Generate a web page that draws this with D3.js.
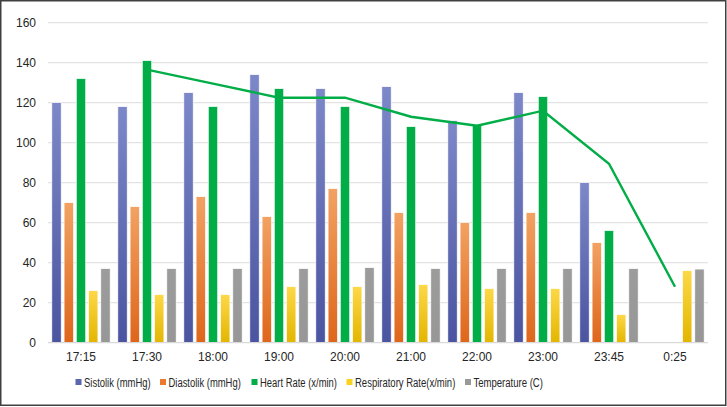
<!DOCTYPE html>
<html><head><meta charset="utf-8">
<script src="https://cdn.jsdelivr.net/npm/d3@7/dist/d3.min.js"></script>
<style>body{margin:0;background:#fff}svg{display:block}text{font-family:"Liberation Sans",Arial,sans-serif;}</style>
</head><body><svg id="c" width="727" height="407"></svg>
<script>
const categories = ["17:15","17:30","18:00","19:00","20:00","21:00","22:00","23:00","23:45","0:25"];
const sistolik = [120,118,125,134,127,128,111,125,80,null];
const diastolik = [70,68,73,63,77,65,60,65,50,null];
const heartRate = [132,141,118,127,118,108,109,123,56,null];
const respRate = [26,24,24,28,28,29,27,27,14,36];
const temperature = [37,37,37,37,37.5,37,37,37,37,36.8];
const hrTrend = [null,136.5,129.5,122.5,122.5,113,108.5,116,89.5,28];
const yTicks = [0,20,40,60,80,100,120,140,160];
const seriesNames = ["Sistolik (mmHg)","Diastolik (mmHg)","Heart Rate (x/min)","Respiratory Rate(x/min)","Temperature (C)"];
const seriesData = [sistolik, diastolik, heartRate, respRate, temperature];

const svg = d3.select("#c");
svg.append("rect").attr("x",0.75).attr("y",0.75).attr("width",725).attr("height",404.5)
  .attr("fill","#fff").attr("stroke","#404040").attr("stroke-width",1.5);

const defs = svg.append("defs");
const grads = [["#7d88c9","#4a54a0"],["#f2a263","#de661a"],null,["#fdd848","#e2b600"],["#9c9c9c","#979797"]];
grads.forEach((g,i)=>{
  if(!g) return;
  const lgr = defs.append("linearGradient").attr("id","g"+i).attr("x1",0).attr("y1",0).attr("x2",0).attr("y2",1);
  lgr.append("stop").attr("offset","0%").attr("stop-color",g[0]);
  lgr.append("stop").attr("offset","100%").attr("stop-color",g[1]);
});
const fills = ["url(#g0)","url(#g1)","#00ad47","url(#g3)","url(#g4)"];
const legendColors = ["#5b66b0","#ec7a2e","#00ad47","#fad11e","#999999"];

const pLeft = 48, pRight = 708, pTop = 22.7, pBottom = 342.7;
const y = d3.scaleLinear().domain([0,160]).range([pBottom, pTop]);
const pi = 0.117;
const x0 = d3.scaleBand().domain(categories).range([pLeft,pRight]).paddingInner(pi).paddingOuter(pi/2);
const x1 = d3.scaleBand().domain(d3.range(5)).range([0,x0.bandwidth()]).paddingInner(0.24).paddingOuter(0);

// gridlines
svg.append("g").selectAll("line").data(yTicks.filter(d=>d>0)).join("line")
  .attr("x1",pLeft).attr("x2",pRight).attr("y1",d=>y(d)).attr("y2",d=>y(d))
  .attr("stroke","#e3e3e3").attr("stroke-width",1.3);

// y axis labels
const yAxis = d3.axisLeft(y).tickValues(yTicks).tickSize(0).tickPadding(0);
const ya = svg.append("g").attr("transform",`translate(${36},0)`).call(yAxis);
ya.select(".domain").remove();
ya.selectAll("text").attr("font-size","12px").attr("fill","#262626").attr("font-family","Liberation Sans, Arial, sans-serif");

// bars
const groups = svg.append("g").selectAll("g").data(categories).join("g")
  .attr("transform",d=>`translate(${x0(d)},0)`);
groups.selectAll("rect").data((d,ci)=>seriesData.map((s,si)=>({si,v:s[ci]})).filter(d=>d.v!=null)).join("rect")
  .attr("x",d=>x1(d.si)).attr("width",x1.bandwidth())
  .attr("y",d=>y(d.v)).attr("height",d=>pBottom-y(d.v))
  .attr("fill",d=>fills[d.si]).attr("stroke","#ffffff").attr("stroke-width",0.6);

// baseline
svg.append("line").attr("x1",pLeft).attr("x2",pRight).attr("y1",pBottom).attr("y2",pBottom)
  .attr("stroke","#d9d9d9").attr("stroke-width",1.3);

// x axis labels
const xAxis = d3.axisBottom(x0).tickSize(0).tickPadding(0);
const xa = svg.append("g").attr("transform",`translate(0,${pBottom+10})`).call(xAxis);
xa.select(".domain").remove();
xa.selectAll("text").attr("font-size","12px").attr("fill","#262626").attr("dy","0.71em").attr("font-family","Liberation Sans, Arial, sans-serif");

// trend line of heart rate (at heart rate bar positions)
const trendPts = categories.map((c,i)=>({c,v:hrTrend[i]})).filter(d=>d.v!=null);
const line = d3.line().x(d=>x0(d.c)+x1(2)+x1.bandwidth()/2).y(d=>y(d.v));
svg.append("path").datum(trendPts).attr("d",line).attr("fill","none")
  .attr("stroke","#00ad47").attr("stroke-width",2.4).attr("stroke-linejoin","miter");

// legend
const legendX = [75.5,160,251.5,346.5,465];
const legendW = [66.7,72.3,77,100.3,69.4];
const lgG = svg.append("g");
seriesNames.forEach((n,i)=>{
  lgG.append("rect").attr("x",legendX[i]).attr("y",379).attr("width",6).attr("height",6).attr("fill",legendColors[i]);
  lgG.append("text").attr("x",legendX[i]+8.5).attr("y",382.3).attr("dy","0.35em")
    .attr("font-family","Liberation Sans Narrow, Liberation Sans, Arial, sans-serif")
    .attr("font-size","12px").attr("fill","#262626")
    .attr("textLength",legendW[i]).attr("lengthAdjust","spacingAndGlyphs").text(n);
});
</script></body></html>
